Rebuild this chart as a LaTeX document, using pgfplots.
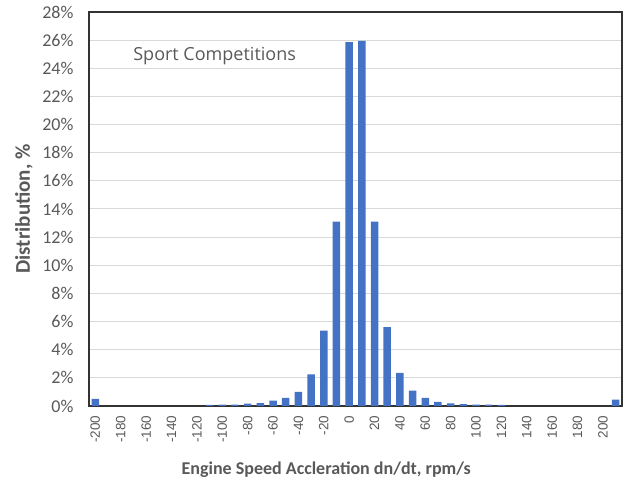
\documentclass[border=0pt]{standalone}
\usepackage{pgfplots}
\pgfplotsset{compat=1.18}
\usepackage{fontspec}
\setmainfont{Carlito}
\newfontfamily\tickfont{Liberation Sans}
\newfontfamily\notefont{Open Sans}
\definecolor{barblue}{HTML}{4472C4}
\definecolor{txtgray}{HTML}{595959}
\definecolor{gridgray}{HTML}{D9D9D9}

\begin{document}
\begin{tikzpicture}[x=1pt,y=1pt]
\useasboundingbox (0,0) rectangle (629,484);
\begin{axis}[
    at={(89pt,78pt)}, anchor=south west,
    scale only axis,
    width=533pt, height=394pt,
    ybar, bar width=5.9,
    xmin=-205, xmax=215,
    ymin=0, ymax=28,
    xtick={-200,-180,...,200},
    ytick={0,2,...,28},
    yticklabel={\pgfmathprintnumber{\tick}\%},
    /pgf/number format/assume math mode=true,
    major tick length=0pt,
    ymajorgrids=true,
    grid style={gridgray, line width=1pt},
    axis line style={black!80, line width=1.2pt},
    xticklabel shift=6pt,
    yticklabel shift=12pt,
    xticklabel style={font=\tickfont\fontsize{13.5}{14}\selectfont, text=txtgray, rotate=90, anchor=east},
    yticklabel style={font=\fontsize{18}{19}\selectfont, text=txtgray},
    xlabel={Engine Speed Accleration dn/dt, rpm/s},
    ylabel={Distribution, \%},
    xlabel style={font=\bfseries\fontsize{18}{19}\selectfont, text=txtgray, at={(axis description cs:0.445,-0.162)}, anchor=center},
    ylabel style={font=\bfseries\fontsize{21}{22}\selectfont, text=txtgray, at={(axis description cs:-0.122,0.5)}, anchor=center, rotate=0},
    clip=false,
]
\addplot[fill=barblue, draw=none] coordinates {
    (-200,0.5)
    (-110,0.08) (-100,0.09) (-90,0.09) (-80,0.16) (-70,0.2) (-60,0.38)
    (-50,0.57) (-40,1.0) (-30,2.25) (-20,5.35) (-10,13.1) (0,25.85)
    (10,25.95) (20,13.1) (30,5.6) (40,2.35) (50,1.1) (60,0.57)
    (70,0.3) (80,0.18) (90,0.14) (100,0.09) (110,0.09) (120,0.08)
    (210,0.45)
};
\node[font=\notefont\fontsize{18}{19}\selectfont, text=txtgray, anchor=center] at (axis cs:-106,24.9) {Sport Competitions};
\end{axis}
\end{tikzpicture}
\end{document}
